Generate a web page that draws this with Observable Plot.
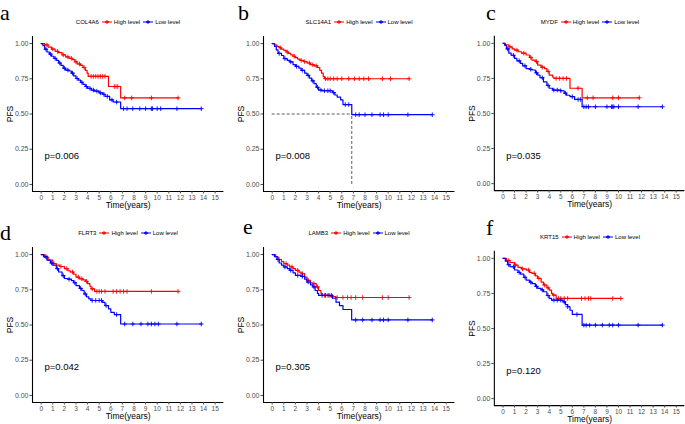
<!DOCTYPE html>
<html><head><meta charset="utf-8">
<script src="https://cdn.jsdelivr.net/npm/d3@7"></script>
<script src="https://cdn.jsdelivr.net/npm/@observablehq/plot@0.6"></script>
<style>
body{margin:0;background:#fff;font-family:"Liberation Sans",Arial,sans-serif;}
#wrap{position:relative;width:685px;height:424px;overflow:hidden;background:#fff;}
.panel{position:absolute;}
.letter{position:absolute;font-family:"Liberation Serif","DejaVu Serif",serif;font-size:22px;line-height:1;color:#000;}
.legend{position:absolute;left:32px;width:192px;top:18px;height:8px;display:flex;justify-content:center;align-items:center;font-size:6px;white-space:nowrap;color:#000;}
.legend svg{margin:0 2px 0 3px;}
</style></head><body><div id="wrap"></div>
<script>
// ---- data ----
const genes = ["COL4A6", "SLC14A1", "MYDF", "FLRT3", "LAMB3", "KRT15"];
const letters = ["a", "b", "c", "d", "e", "f"];
const pValues = ["p=0.006", "p=0.008", "p=0.035", "p=0.042", "p=0.305", "p=0.120"];
const xTicks = [0, 1, 2, 3, 4, 5, 6, 7, 8, 9, 10, 11, 12, 13, 14, 15];
const yTicks = [0, 0.25, 0.5, 0.75, 1];
const seriesNames = ["High level", "Low level"];

// step points [time, survival]
const highA = [[0,1],[0.3,0.99],[0.6,0.975],[0.9,0.96],[1.2,0.945],[1.5,0.935],[1.8,0.92],[2.1,0.905],[2.4,0.895],[2.7,0.886],[2.9,0.87],[3.1,0.855],[3.4,0.845],[3.6,0.83],[3.8,0.81],[3.95,0.79],[4.05,0.767],[5.8,0.695],[6.85,0.614],[11.8,0.614]];
const lowA = [[0,1],[0.15,0.985],[0.3,0.96],[0.5,0.94],[0.7,0.925],[0.9,0.91],[1.1,0.895],[1.3,0.88],[1.5,0.862],[1.7,0.845],[1.9,0.825],[2.1,0.812],[2.4,0.805],[2.6,0.79],[2.8,0.77],[3.0,0.752],[3.2,0.74],[3.4,0.725],[3.6,0.71],[3.8,0.695],[4.0,0.682],[4.3,0.67],[4.6,0.662],[5.0,0.65],[5.3,0.64],[5.5,0.625],[5.9,0.6],[6.2,0.585],[6.85,0.538],[13.8,0.538]];
const cHighA = [0.5,1.0,1.4,1.9,2.3,2.6,3.0,3.3,3.7,4.3,4.5,4.7,4.9,5.1,5.3,5.5,6.3,6.45,6.6,7.2,7.8,9.5,11.8];
const cLowA = [0.4,0.8,1.2,1.6,2.0,2.3,2.7,3.1,3.5,3.9,4.2,4.5,4.8,5.1,5.4,5.7,6.1,6.5,7.1,7.4,7.9,8.5,9.0,9.5,9.6,10.0,10.3,11.7,13.8];

const highB = [[0,1],[0.2,0.99],[0.4,0.98],[0.6,0.97],[0.8,0.96],[1.0,0.952],[1.2,0.94],[1.4,0.93],[1.6,0.92],[1.8,0.91],[2.0,0.9],[2.2,0.89],[2.4,0.88],[2.7,0.872],[3.0,0.862],[3.3,0.85],[3.6,0.842],[3.9,0.83],[4.1,0.81],[4.25,0.79],[4.4,0.765],[4.5,0.75],[11.8,0.75]];
const lowB = [[0,1],[0.2,0.98],[0.35,0.955],[0.5,0.93],[0.8,0.915],[1.0,0.893],[1.3,0.88],[1.5,0.87],[1.8,0.85],[2.0,0.838],[2.3,0.825],[2.5,0.81],[2.8,0.79],[3.0,0.774],[3.2,0.755],[3.4,0.735],[3.6,0.715],[3.8,0.69],[4.0,0.67],[4.3,0.665],[5.2,0.652],[5.4,0.635],[5.6,0.62],[5.9,0.6],[6.1,0.567],[6.86,0.495],[13.8,0.495]];
const cHighB = [0.7,1.3,1.9,2.5,2.8,3.2,3.5,3.8,4.6,4.8,5.0,5.3,5.6,6.0,6.6,7.1,7.5,7.9,8.3,9.5,10.2,11.8];
const cLowB = [0.6,1.1,1.6,2.1,2.6,3.1,3.5,3.9,4.2,4.5,4.8,5.0,5.3,6.3,6.6,7.2,7.5,8.0,8.6,9.3,9.6,10.0,11.7,13.8];
const medianB = [6.86, 0.5];

const highC = [[0,1],[0.2,0.99],[0.5,0.975],[0.8,0.96],[1.0,0.952],[1.3,0.94],[1.6,0.93],[2.0,0.917],[2.3,0.9],[2.5,0.88],[2.8,0.87],[3.0,0.845],[3.3,0.83],[3.6,0.82],[3.8,0.8],[4.0,0.774],[4.3,0.76],[4.4,0.75],[5.8,0.68],[6.85,0.612],[11.8,0.612]];
const lowC = [[0,1],[0.15,0.985],[0.3,0.96],[0.5,0.93],[0.7,0.915],[1.0,0.893],[1.2,0.875],[1.5,0.857],[1.7,0.84],[2.0,0.82],[2.3,0.815],[2.5,0.81],[2.8,0.79],[3.0,0.774],[3.2,0.755],[3.5,0.726],[3.8,0.7],[4.0,0.68],[4.3,0.667],[5.0,0.662],[5.3,0.645],[5.5,0.63],[5.8,0.62],[6.2,0.6],[6.85,0.548],[13.8,0.548]];
const cHighC = [0.6,1.2,1.8,2.4,2.9,3.4,3.9,4.6,4.9,5.2,5.5,6.5,7.3,7.8,9.5,10.0,11.8];
const cLowC = [0.4,0.9,1.4,1.9,2.4,2.9,3.4,3.9,4.4,4.7,5.0,5.4,6.0,6.5,6.7,7.0,7.2,7.4,8.0,9.0,9.4,9.5,9.6,10.0,11.7,13.8];

const highD = [[0,1],[0.3,0.98],[0.6,0.96],[1.0,0.936],[1.3,0.925],[1.6,0.915],[2.0,0.9],[2.3,0.885],[2.5,0.876],[2.8,0.86],[3.0,0.84],[3.3,0.828],[3.6,0.82],[3.8,0.81],[4.0,0.793],[4.2,0.775],[4.3,0.757],[4.6,0.738],[11.8,0.738]];
const lowD = [[0,1],[0.2,0.985],[0.5,0.96],[0.8,0.94],[1.0,0.924],[1.3,0.9],[1.5,0.876],[1.8,0.85],[2.0,0.83],[2.3,0.825],[2.6,0.815],[2.8,0.8],[3.0,0.78],[3.3,0.76],[3.5,0.745],[3.7,0.72],[3.9,0.7],[4.1,0.686],[4.3,0.674],[5.3,0.66],[5.5,0.638],[5.8,0.615],[6.0,0.59],[6.3,0.574],[6.85,0.507],[13.8,0.507]];
const cHighD = [0.5,1.1,1.7,2.2,2.7,3.2,3.5,3.9,4.4,4.8,5.0,5.2,5.5,6.2,6.5,6.8,7.1,7.4,9.5,11.8];
const cLowD = [0.4,0.9,1.4,1.9,2.4,2.9,3.4,3.8,4.4,4.7,5.0,5.2,5.6,6.5,7.2,7.9,8.6,9.2,9.5,9.8,10.1,11.7,13.8];

const highE = [[0,1],[0.3,0.985],[0.5,0.965],[0.8,0.95],[1.0,0.936],[1.3,0.925],[1.5,0.912],[1.8,0.9],[2.0,0.888],[2.3,0.875],[2.5,0.864],[2.8,0.84],[3.0,0.817],[3.3,0.8],[3.5,0.793],[3.8,0.77],[4.0,0.745],[4.2,0.725],[4.3,0.71],[5.0,0.702],[5.5,0.695],[11.8,0.695]];
const lowE = [[0,1],[0.2,0.985],[0.4,0.965],[0.6,0.94],[0.8,0.925],[1.0,0.912],[1.3,0.9],[1.5,0.888],[1.8,0.87],[2.0,0.852],[2.5,0.845],[2.8,0.825],[3.0,0.805],[3.3,0.785],[3.5,0.77],[3.7,0.745],[3.9,0.725],[4.0,0.71],[5.2,0.69],[5.5,0.662],[5.8,0.638],[6.1,0.61],[6.85,0.536],[13.8,0.536]];
const cHighE = [0.6,1.2,1.7,2.2,2.6,3.1,3.6,3.9,4.5,4.8,5.2,5.6,6.1,6.5,6.8,7.2,7.8,9.5,10.0,11.8];
const cLowE = [0.5,1.1,1.6,2.2,2.6,3.1,3.6,4.3,4.6,4.9,5.1,7.2,7.8,8.6,9.3,9.6,10.0,11.7,13.8];

const highF = [[0,1],[0.3,0.985],[0.6,0.97],[1.0,0.952],[1.3,0.935],[1.6,0.925],[2.0,0.917],[2.3,0.9],[2.5,0.893],[2.8,0.875],[3.0,0.857],[3.3,0.83],[3.5,0.81],[3.8,0.79],[4.0,0.774],[4.2,0.75],[4.3,0.738],[4.6,0.714],[10.2,0.714]];
const lowF = [[0,1],[0.2,0.98],[0.4,0.955],[0.6,0.94],[1.0,0.917],[1.3,0.9],[1.5,0.888],[1.8,0.865],[2.0,0.845],[2.3,0.83],[2.5,0.82],[2.8,0.8],[3.0,0.786],[3.3,0.775],[3.5,0.762],[3.8,0.735],[4.0,0.714],[4.2,0.702],[5.2,0.69],[5.4,0.67],[5.6,0.655],[5.8,0.63],[6.0,0.6],[6.85,0.524],[13.8,0.524]];
const cHighF = [0.5,1.1,1.7,2.2,2.7,3.1,3.6,3.9,4.4,4.8,5.0,5.3,5.6,6.8,7.1,7.4,7.6,9.5,10.2];
const cLowF = [0.5,0.9,1.4,1.9,2.4,2.9,3.4,3.9,4.4,4.7,5.0,5.3,5.6,6.4,7.0,7.2,7.5,8.0,8.6,9.2,9.5,10.0,11.7,13.8];

const colors = ["#FF0000", "#0000FF"];

// ---- layout ----
const panelLeft = [0, 231, 462, 0, 231, 462];
const panelTop = [0, 0, 0, 211, 211, 215];
const letterPos = [[0,2],[238,2],[486,2],[0,222],[243,216],[486,217]];

const panels = [
  [highA, lowA, cHighA, cLowA, null],
  [highB, lowB, cHighB, cLowB, medianB],
  [highC, lowC, cHighC, cLowC, null],
  [highD, lowD, cHighD, cLowD, null],
  [highE, lowE, cHighE, cLowE, null],
  [highF, lowF, cHighF, cLowF, null]
];

const stepAt = (curve, t) => { let s = curve[0][1]; for (const [tt, ss] of curve) if (tt <= t) s = ss; return s; };
const rows = curve => curve.map(([t, s]) => ({t, s}));
const cens = (curve, times) => times.map(t => ({t, s: stepAt(curve, t)}));

const wrap = document.getElementById("wrap");

function legendSym(color) {
  return `<svg width="10" height="6" viewBox="0 0 10 6"><line x1="0" y1="3" x2="10" y2="3" stroke="${color}" stroke-width="1"/><line x1="5" y1="1" x2="5" y2="5" stroke="${color}" stroke-width="1"/><line x1="3" y1="3" x2="7" y2="3" stroke="${color}" stroke-width="1.5"/></svg>`;
}

panels.forEach(([high, low, cHigh, cLow, median], i) => {
  const marks = [
    Plot.ruleX([-0.75], {stroke: "#000", strokeWidth: 1.1}),
    Plot.ruleY([-0.05], {stroke: "#000", strokeWidth: 1.1}),
    Plot.axisX({ticks: xTicks, tickSize: 2.5, tickPadding: 1, fontSize: 6.5, color: "#4d4d4d", label: null}),
    Plot.axisY({ticks: yTicks, tickFormat: d => d.toFixed(2), tickSize: 2.5, tickPadding: 1.5, fontSize: 7, color: "#4d4d4d", label: null}),
    Plot.text(["Time(years)"], {frameAnchor: "bottom", lineAnchor: "middle", dy: 13.5, fontSize: 8.5, fill: "#000"}),
    Plot.text(["PFS"], {frameAnchor: "left", lineAnchor: "middle", textAnchor: "middle", rotate: -90, dx: -22, fontSize: 8.5, fill: "#000"})
  ];
  if (median) {
    marks.push(Plot.ruleY([median[1]], {x1: 0, x2: median[0], stroke: "#333", strokeWidth: 0.8, strokeDasharray: "3,2"}));
    marks.push(Plot.ruleX([median[0]], {y1: 0, y2: median[1], stroke: "#333", strokeWidth: 0.8, strokeDasharray: "3,2"}));
  }
  marks.push(
    Plot.line(rows(high), {x: "t", y: "s", curve: "step-after", stroke: colors[0], strokeWidth: 1.2}),
    Plot.dot(cens(high, cHigh), {x: "t", y: "s", symbol: "plus", stroke: colors[0], r: 1.6, strokeWidth: 0.9}),
    Plot.line(rows(low), {x: "t", y: "s", curve: "step-after", stroke: colors[1], strokeWidth: 1.2}),
    Plot.dot(cens(low, cLow), {x: "t", y: "s", symbol: "plus", stroke: colors[1], r: 1.6, strokeWidth: 0.9}),
    Plot.text([{t: 0.28, s: 0.2, label: pValues[i]}], {x: "t", y: "s", text: "label", textAnchor: "start", fontSize: 9.5, fill: "#000"})
  );
  const chart = Plot.plot({
    width: 224, height: 210,
    marginLeft: 32, marginTop: 36, marginRight: 0.6, marginBottom: 19,
    style: {fontFamily: "'Liberation Sans', Arial, sans-serif", background: "transparent", overflow: "visible"},
    x: {domain: [-0.75, 15.75]},
    y: {domain: [-0.05, 1.05]},
    marks
  });
  const div = document.createElement("div");
  div.className = "panel";
  div.style.left = panelLeft[i] + "px";
  div.style.top = panelTop[i] + "px";
  div.appendChild(chart);
  const leg = document.createElement("div");
  leg.className = "legend";
  leg.innerHTML = `<span>${genes[i]}</span>${legendSym(colors[0])}<span>${seriesNames[0]}</span>${legendSym(colors[1])}<span>${seriesNames[1]}</span>`;
  div.appendChild(leg);
  wrap.appendChild(div);
  const L = document.createElement("div");
  L.className = "letter";
  L.textContent = letters[i];
  L.style.left = letterPos[i][0] + "px";
  L.style.top = letterPos[i][1] + "px";
  wrap.appendChild(L);
});
</script></body></html>
